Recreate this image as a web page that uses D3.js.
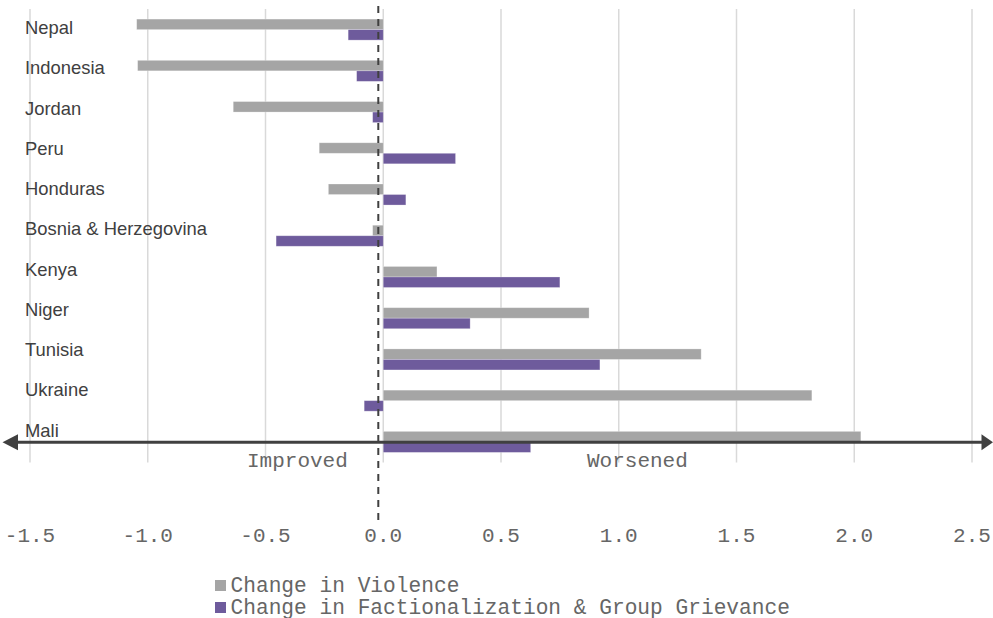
<!DOCTYPE html>
<html><head><meta charset="utf-8">
<script src="https://cdn.jsdelivr.net/npm/d3@7"></script>
<style>body{margin:0;background:#fff;}svg{display:block;}</style>
</head><body>
<script>
const categories = ["Nepal","Indonesia","Jordan","Peru","Honduras","Bosnia & Herzegovina","Kenya","Niger","Tunisia","Ukraine","Mali"];
const violence = [-1.047,-1.043,-0.637,-0.272,-0.233,-0.045,0.228,0.874,1.350,1.820,2.028];
const factional = [-0.149,-0.113,-0.045,0.307,0.096,-0.455,0.750,0.369,0.920,-0.081,0.626];
const xTicks = [-1.5,-1.0,-0.5,0.0,0.5,1.0,1.5,2.0,2.5];
const seriesNames = ["Change in Violence","Change in Factionalization & Group Grievance"];
const seriesColors = ["#a5a5a5","#6e5b9c"];

const W=993,H=618;
const svg=d3.select("body").append("svg").attr("width",W).attr("height",H);
const x=d3.scaleLinear().domain([-1.5,2.5]).range([30,972]);
const y=d3.scaleBand().domain(categories).range([9,462.5]).paddingInner(0.49).paddingOuter(0.245);
const yLab=d3.scalePoint().domain(categories).range([34,436.7]);
const sub=d3.scaleBand().domain([0,1]).range([0,y.bandwidth()]);
const mono="'Liberation Mono','Courier New',monospace";
const monoCol="#666666";

// gridlines
svg.append("g").selectAll("line").data(xTicks).join("line")
  .attr("x1",d=>x(d)).attr("x2",d=>x(d)).attr("y1",9).attr("y2",462.5)
  .attr("stroke","#d9d9d9").attr("stroke-width",1.5);

// bars
const series=[violence,factional];
series.forEach((vals,si)=>{
  svg.append("g").selectAll("rect").data(categories).join("rect")
    .attr("x",(c,i)=>x(Math.min(0,vals[i])))
    .attr("width",(c,i)=>Math.abs(x(vals[i])-x(0)))
    .attr("y",c=>y(c)+sub(si))
    .attr("height",sub.bandwidth())
    .attr("fill",seriesColors[si])
    .attr("stroke","#ffffff").attr("stroke-opacity",0.35).attr("stroke-width",0.75);
});

// category labels
svg.append("g").selectAll("text").data(categories).join("text")
  .attr("x",25).attr("y",c=>yLab(c))
  .attr("font-family","'Liberation Sans',Arial,sans-serif").attr("font-size",18.4)
  .attr("fill","#404040").text(c=>c);

// dashed line
svg.append("line").attr("x1",378.3).attr("x2",378.3).attr("y1",6).attr("y2",521)
  .attr("stroke","#404040").attr("stroke-width",2).attr("stroke-dasharray","7,6");

// arrow axis
svg.append("line").attr("x1",14).attr("x2",982).attr("y1",442.3).attr("y2",442.3)
  .attr("stroke","#404040").attr("stroke-width",3);
svg.append("path").attr("d","M2.5,442.3 L18,434.3 L18,450.3 Z").attr("fill","#404040");
svg.append("path").attr("d","M993,442.3 L981.5,434.3 L981.5,450.3 Z").attr("fill","#404040");

// Improved / Worsened
svg.append("text").attr("x",247).attr("y",466.7).attr("font-family",mono).attr("font-size",21)
  .attr("fill",monoCol).text("Improved");
svg.append("text").attr("x",587).attr("y",466.7).attr("font-family",mono).attr("font-size",21)
  .attr("fill",monoCol).text("Worsened");

// x tick labels
svg.append("g").selectAll("text").data(xTicks).join("text")
  .attr("x",d=>x(d)).attr("y",541.5).attr("text-anchor","middle")
  .attr("font-family",mono).attr("font-size",21).attr("fill",monoCol)
  .text(d=>d3.format(".1f")(d).replace("−","-"));

// legend
const lg=svg.append("g").selectAll("g").data(seriesNames).join("g")
  .attr("transform",(d,i)=>`translate(215,${580+i*22})`);
lg.append("rect").attr("width",11).attr("height",11).attr("fill",(d,i)=>seriesColors[i]);
lg.append("text").attr("x",15.5).attr("y",11.5).attr("font-family",mono).attr("font-size",21.2)
  .attr("fill",monoCol).text(d=>d);
</script>
</body></html>
